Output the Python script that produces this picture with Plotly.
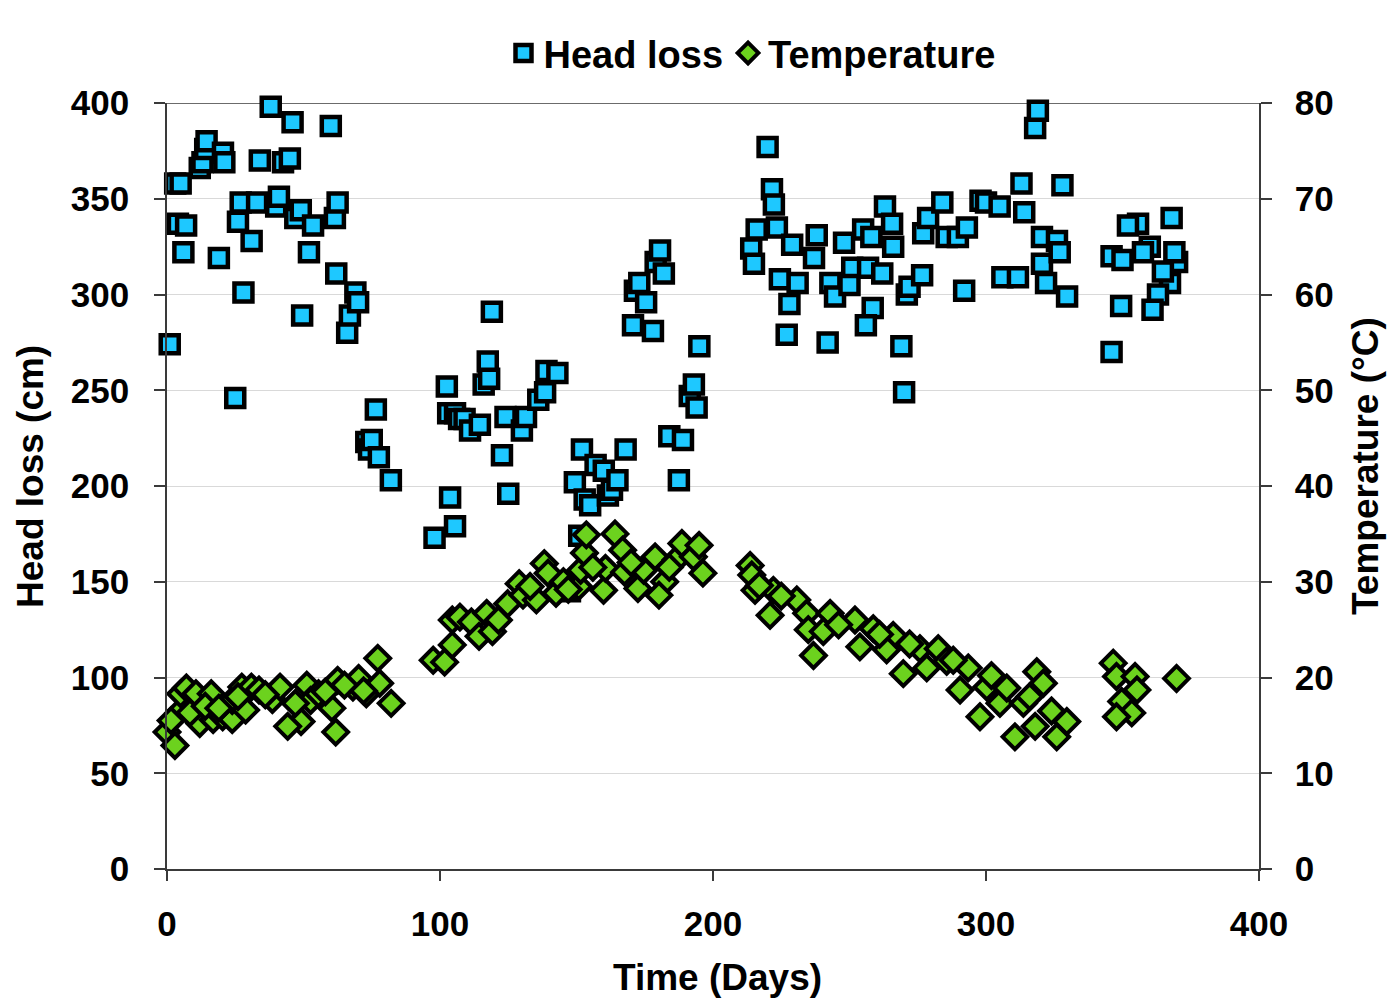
import plotly.graph_objects as go

# ---------------- data ----------------
head_days = [1, 3, 5, 4, 7, 6, 12, 13, 14, 14.5, 20.5, 21, 19, 25, 26, 27, 28, 31, 33, 34, 38, 40, 41,
             42.5, 45, 46, 47, 49, 49.5, 52, 53.5, 60, 61.5, 62.5, 62, 66, 67, 69, 70, 73, 74, 75, 76.5, 77.6, 82,
             98, 102.5, 103.7, 103, 105.5, 105.5, 107, 109, 111, 114.6, 116, 117.5, 118, 119, 122.7, 124, 125,
             130, 131.5, 136, 138.5, 139, 143, 147.6, 149.4, 151, 152, 153, 155, 157, 160, 161.5, 163, 165, 168,
             170.7, 171.4, 173, 175.5, 178, 179, 180.6, 182, 184, 187.5, 189, 191.5, 193, 194, 195,
             220, 221.6, 222.3, 216, 223.4, 214, 215, 229, 224.5, 231, 228, 227, 238, 237, 243, 244.7, 242,
             248, 251, 250, 255, 258, 256.8, 258.5, 256, 263, 265.6, 266, 262, 269, 270, 271, 272, 276.6, 277,
             278.8, 284, 285.6, 289.7, 293, 292, 298, 300, 305, 306, 311.7, 313, 314, 318, 319, 320.5, 320.5,
             326, 327, 322, 329.7, 328, 346, 346, 350, 349.5, 355.7, 352, 360, 357.5, 368, 370, 367.4, 363,
             361, 364.8, 369]
head_loss = [274, 358, 358, 337, 336, 322, 366, 369, 376, 380, 374, 369, 319, 246, 338, 348, 301, 328, 348,
             370, 398, 346, 351, 369, 371, 390, 340, 344, 289, 322, 336, 388, 340, 348, 311, 280, 289, 301, 296,
             223, 219, 224, 240, 215, 203,
             173, 252, 194, 238, 238, 179, 235, 235, 229, 232, 253, 265, 256, 291, 216, 236, 196,
             229, 236, 245, 249, 260, 259, 145, 202, 174, 219, 193, 190, 211, 208, 195, 198, 203, 219,
             284, 302, 306, 296, 281, 317, 323, 311, 226, 203, 224, 247, 253, 241, 273,
             377, 355, 347, 334, 335, 324, 316, 326, 308, 306, 295, 279, 331, 319, 306, 299, 275,
             327, 314, 305, 334, 330, 314, 293, 284, 346, 337, 325, 311, 273, 249, 300, 304, 310, 332,
             340, 348, 330, 330, 335, 302, 349, 348, 346, 309, 309, 358, 343, 387, 396, 330, 316,
             328, 322, 306, 299, 357, 270, 320, 318, 294, 337, 336, 325, 322, 340, 317, 306, 300,
             292, 312, 322]

temp_days = [0, 2.9, 4.3, 5, 7.1, 10.6, 12, 16.2, 16.9, 20.4, 23.9, 23.9, 27.4, 30.9, 28.8, 33.7, 38.6,
             41.4, 49.1, 44.2, 51.2, 52.6, 55.5, 60.4, 61.8, 62.5, 68.1, 70.2, 73, 77.2, 77.9, 82.1,
             1.5, 8.4, 14, 19, 26, 36, 47, 58, 65, 72,
             97.5, 101.7, 104.5, 104.5, 107.3, 111.5, 114.3, 117.1, 119.2, 121.4, 124.8, 129, 130.4, 135.3,
             138.2, 139.6, 142.5, 145.2, 150.8, 151.5, 152.9, 153.6, 159.9, 160.6, 164.1, 166.9, 167.6, 172.5,
             174.6, 178.8, 182.3, 180.2, 186.5, 188.6, 192.8, 194.9, 196.3, 133, 147, 156, 170, 184,
             213.6, 214.2, 215.4, 222.1, 220.9, 230.7, 234.3, 234.9, 236.8, 242.9, 240.4, 252, 253.8, 258.7,
             266, 263.6, 269.7, 275.8, 278.3, 282.5, 285.6, 290.5, 293.5, 297.8, 300.3, 305.1, 307.6, 310.6,
             313.7, 318, 318.6, 321, 325.9, 329.6, 346.6, 347.8, 354.6, 349.7, 353.4, 347.8, 369.8, 355.3,
             217, 225, 246, 261, 272, 288, 302, 316, 324]
temperature = [14.3, 12.9, 16.3, 18.3, 18.9, 18.3, 15.2, 18.3, 15.6, 15.9, 15.6, 17.6, 19, 19, 16.6, 18.7,
               17.7, 19, 15.4, 14.9, 19.2, 17.6, 18.3, 16.8, 14.3, 19.7, 19, 19.9, 18.3, 22, 19.4, 17.3,
               15.5, 16.3, 17, 16.8, 18, 18.2, 17.3, 18.5, 19.2, 18.6,
               21.8, 21.6, 23.4, 26, 26.3, 25.8, 24.3, 26.7, 24.8, 26, 27.7, 29.8, 28.6, 28.1,
               31.9, 30.9, 28.8, 30, 29.5, 31.2, 33, 34.9, 29.1, 31.4, 35, 33.3, 31, 29.3,
               31.2, 32.6, 30, 28.6, 32.3, 34, 32.6, 33.8, 30.9, 29.5, 29.2, 31.5, 32, 31.5,
               31.7, 30.7, 29.1, 29.1, 26.5, 28.1, 26.7, 25, 22.3, 26.7, 24.8, 26, 23.2, 25.1,
               24.4, 22.9, 20.4, 23, 21, 23, 21.7, 18.7, 21, 15.9, 19, 17.3, 18.9, 13.8,
               17.3, 14.9, 20.6, 19.4, 13.8, 15.4, 21.5, 20.1, 20.1, 17.5, 16.3, 15.9, 19.9, 18.7,
               29.6, 28.5, 25.5, 24.5, 23.5, 21.8, 20.2, 18, 16.5]

x_ticks = [0, 100, 200, 300, 400]
y_ticks = [0, 50, 100, 150, 200, 250, 300, 350, 400]
y2_ticks = [0, 10, 20, 30, 40, 50, 60, 70, 80]

FONT = "Liberation Sans"
AXIS_COLOR = "#3a3a3a"

fig = go.Figure()
fig.add_trace(go.Scatter(
    x=head_days, y=head_loss, mode="markers", name="Head loss", cliponaxis=False,
    marker=dict(symbol="square", size=18, color="#1EC8FF", line=dict(color="black", width=4.5)),
))
fig.add_trace(go.Scatter(
    x=temp_days, y=temperature, mode="markers", name="Temperature", yaxis="y2", cliponaxis=False,
    marker=dict(symbol="diamond", size=19, color="#6CD21E", line=dict(color="black", width=4)),
))

tickfont = dict(family=FONT, size=35, color="black", weight="bold")
titlefont = dict(family=FONT, size=37, color="black", weight="bold")

fig.update_layout(
    width=1388, height=1002,
    margin=dict(l=167, r=129, t=103, b=133),
    paper_bgcolor="white", plot_bgcolor="white",
    showlegend=True,
    legend=dict(orientation="h", x=(752 - 167) / 1092, xanchor="center", y=1.065, yanchor="middle",
                font=dict(family=FONT, size=38, color="black", weight="bold"),
                itemsizing="trace", bgcolor="rgba(0,0,0,0)", itemwidth=30),
    xaxis=dict(range=[0, 400], tickvals=x_ticks, showgrid=False, zeroline=False,
               showline=True, linecolor=AXIS_COLOR, linewidth=1.5,
               ticks="outside", ticklen=10, tickwidth=1.5, tickcolor=AXIS_COLOR,
               tickfont=tickfont, ticklabelstandoff=13),
    yaxis=dict(range=[0, 400], tickvals=y_ticks, showgrid=True, gridcolor="#d9d9d9", gridwidth=1.2,
               zeroline=False, showline=True, linecolor=AXIS_COLOR, linewidth=1.5,
               ticks="outside", ticklen=11, tickwidth=1.5, tickcolor=AXIS_COLOR,
               tickfont=tickfont, ticklabelstandoff=18),
    yaxis2=dict(range=[0, 80], tickvals=y2_ticks, overlaying="y", side="right", showgrid=False,
                zeroline=False, showline=True, linecolor=AXIS_COLOR, linewidth=1.5,
                ticks="outside", ticklen=11, tickwidth=1.5, tickcolor=AXIS_COLOR,
                tickfont=tickfont, ticklabelstandoff=16),
    shapes=[dict(type="line", xref="paper", yref="y", x0=-11 / 1092, x1=1 + 11 / 1092, y0=400, y1=400,
                 line=dict(color=AXIS_COLOR, width=1.5), layer="below")],
    annotations=[
        dict(text="Head loss (cm)", xref="paper", yref="paper", x=-137 / 1092, y=(869 - 477) / 766,
             textangle=-90, showarrow=False, xanchor="center", yanchor="middle", font=titlefont),
        dict(text="Temperature (°C)", xref="paper", yref="paper", x=(1365 - 167) / 1092, y=(869 - 466) / 766,
             textangle=-90, showarrow=False, xanchor="center", yanchor="middle", font=titlefont),
        dict(text="Time (Days)", xref="paper", yref="paper", x=(717 - 167) / 1092, y=-(978 - 869) / 766,
             showarrow=False, xanchor="center", yanchor="middle", font=titlefont),
    ],
)

fig.write_html("out.html")
